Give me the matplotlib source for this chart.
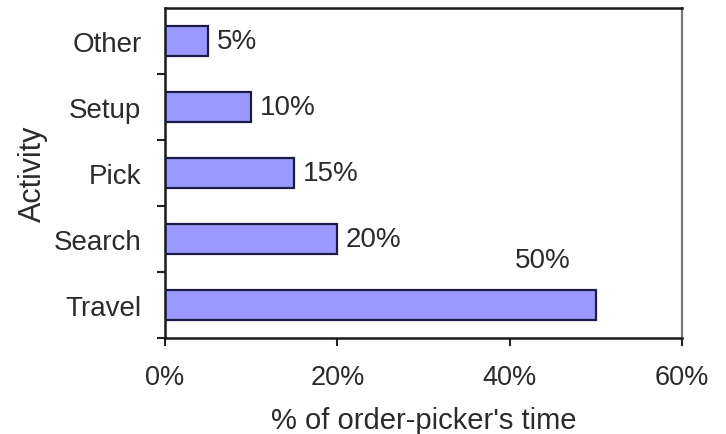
import matplotlib
matplotlib.use("Agg")
import matplotlib.pyplot as plt
from matplotlib.ticker import FuncFormatter, FixedLocator

plt.rcParams['font.family'] = ['Liberation Sans', 'DejaVu Sans']

activities = ["Travel", "Search", "Pick", "Setup", "Other"]
shares = [50, 20, 15, 10, 5]
share_labels = ["50%", "20%", "15%", "10%", "5%"]
x_ticks = [0, 20, 40, 60]

text_color = "#2b2b2b"
fig = plt.figure(figsize=(7.26, 4.35), dpi=100)
ax = fig.add_axes([0.2273, 0.2207, 0.9394 - 0.2273, 0.9793 - 0.2207])

ypos = list(range(len(activities)))
ax.barh(ypos, shares, height=0.45, color="#9999FF", edgecolor="#1c1c4a",
        linewidth=1.6)

# value labels: short bars labelled at their ends, the long one above it
for y, v, lab in zip(ypos, shares, share_labels):
    if v >= 40:
        ax.text(v - 9.4, y + 0.68, lab, ha="left", va="center",
                fontsize=20, color=text_color)
    else:
        ax.text(v + 1.0, y, lab, ha="left", va="center",
                fontsize=20, color=text_color)

ax.set_xlim(0, 60)
ax.set_ylim(-0.5, len(activities) - 0.5)
ax.set_xticks(x_ticks)
ax.xaxis.set_major_formatter(FuncFormatter(lambda v, p: f"{v:.0f}%"))
ax.set_yticks(ypos)
ax.set_yticklabels(activities)
ax.yaxis.set_minor_locator(FixedLocator([i + 0.5 for i in range(len(activities) - 1)] + [-0.5]))

ax.tick_params(axis="x", direction="out", length=6, width=1.5, pad=13,
               labelsize=19.5, labelcolor=text_color, color="#222222")
ax.tick_params(axis="y", which="major", length=0, pad=17,
               labelsize=20, labelcolor=text_color)
ax.tick_params(axis="y", which="minor", direction="out", length=6, width=1.5,
               color="#222222")

for side in ("left", "bottom", "top"):
    ax.spines[side].set_linewidth(1.8)
    ax.spines[side].set_color("#1a1a1a")
ax.spines["right"].set_linewidth(1.6)
ax.spines["right"].set_color("#777777")

ax.set_xlabel("% of order-picker's time", fontsize=21, color=text_color,
              labelpad=11)
ax.set_ylabel("Activity", fontsize=22, color=text_color, labelpad=4)

fig.savefig("out.png", dpi=100, facecolor="white")
